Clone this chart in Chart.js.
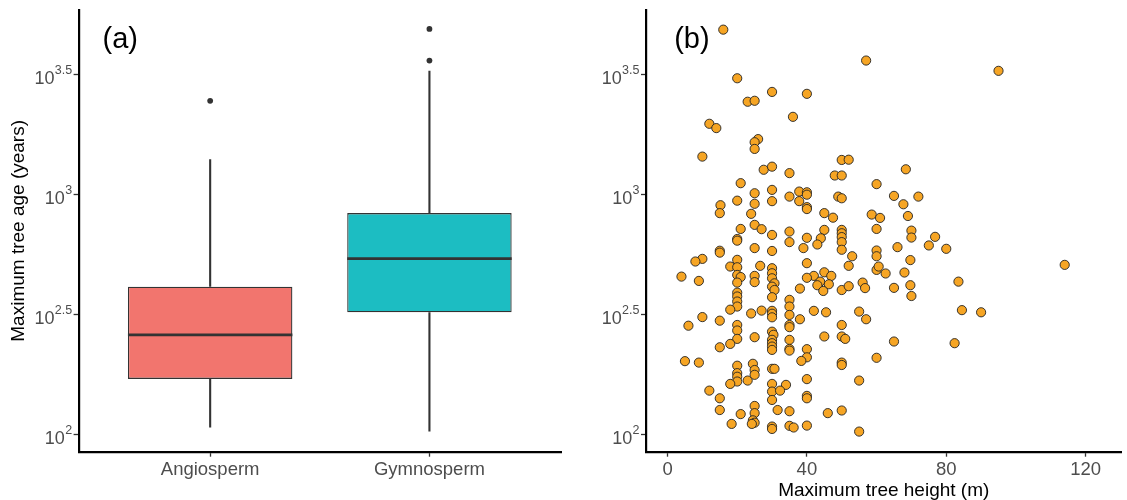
<!DOCTYPE html>
<html>
<head>
<meta charset="utf-8">
<script src="https://cdn.jsdelivr.net/npm/chart.js@4.4.0/dist/chart.umd.min.js"></script>
<style>
    html, body { margin: 0; padding: 0; background: #ffffff; }
    #wrap { position: relative; width: 1127px; height: 500px; overflow: hidden; }
    #box_chart_canvas { position: absolute; left: 0; top: 0; }
    #height_chart_canvas { position: absolute; left: 564px; top: 0; }
</style>
</head>
<body>
<div id="wrap">
    <canvas id="box_chart_canvas" width="565" height="500"></canvas>
    <canvas id="height_chart_canvas" width="563" height="500"></canvas>
</div>
<script>
'use strict';

// y values are log10(maximum tree age in years), axis shows 10^x
var yTicks = [2, 2.5, 3, 3.5];
var yTickExp = ['2', '2.5', '3', '3.5'];
var yMin = 1.927;
var yMax = 3.771;

// panel (a): boxplot per group
var categories = ['Angiosperm', 'Gymnosperm'];
var catPos = [1, 2];
var q1 = [2.231, 2.509];
var median = [2.415, 2.733];
var q3 = [2.616, 2.923];
var whiskerLow = [2.028, 2.011];
var whiskerHigh = [3.148, 3.517];
var outlierCat = [1, 2, 2];
var outlierAge = [3.392, 3.692, 3.560];
var boxColors = ['#F2756E', '#1CBDC2'];

// panel (b): maximum tree height (m) vs log10 maximum age
var xTicks = [0, 40, 80, 120];
var treeHeight = [
    16, 20, 30, 23, 25, 12, 14, 26, 25, 25, 10,
    57, 40, 36,
    95, 68.4, 72, 67.7, 69, 70, 70, 76.8, 75, 80, 114, 69.7, 68, 83.5, 69.7, 70, 84.5, 90, 82.4,
    50, 52, 35, 48, 50, 60, 35, 37.8, 40, 40, 49, 50, 65, 37.8, 40, 40, 45, 47.5, 58.6, 61,
    35, 35, 40, 45, 44, 43, 39, 50, 50, 50, 50, 50, 60, 66, 53, 52, 60, 60, 40, 45, 42, 40,
    43.8, 47, 46.3, 43, 44.7, 38, 50, 52, 56, 56.7, 60, 60.6, 62.6, 65, 35, 35,
    27.6, 30, 21, 20, 25, 30, 25, 30, 15.2, 15, 24, 25, 27, 21, 30, 20, 20, 15, 15, 25, 30,
    10, 8, 4, 9, 20, 18, 20, 20, 21, 20, 26.6, 25, 25, 30, 30, 30, 30.7, 30, 30.7, 30,
    20, 20, 20, 20, 18, 24, 27, 30,
    30, 30, 6, 10, 15, 20, 20, 20, 18, 15, 25, 30, 30.4, 30, 30, 30, 30, 5, 9, 20, 20, 20, 20,
    18, 23, 24.5, 25, 25, 30, 30.7, 30, 30, 30, 31.6, 12, 15, 15, 21, 25, 25, 24.5, 25, 24.2,
    18.4, 30, 30,
    42, 45.5, 55, 35, 38, 57, 35, 35, 50, 45, 50, 51, 65, 35, 35, 35, 40, 40, 38.4, 50, 50, 60,
    40, 34, 32.3, 55, 40, 40, 35, 46, 50, 35, 36.2, 40, 55
];
var treeAgeLog = [
    3.689, 3.486, 3.429, 3.388, 3.392, 3.296, 3.278, 3.232, 3.219, 3.191, 3.159,
    3.560, 3.421, 3.325,
    3.517, 3.106, 2.992, 2.960, 2.911, 2.850, 2.821, 2.824, 2.788, 2.774, 2.707, 2.727, 2.675, 2.637, 2.622, 2.577, 2.518, 2.509, 2.380,
    3.145, 3.146, 3.090, 3.080, 3.080, 3.044, 2.992, 3.013, 3.010, 3.000, 2.992, 2.985, 2.995, 2.973, 2.948, 2.940, 2.923, 2.904, 2.917, 2.903,
    2.846, 2.802, 2.820, 2.853, 2.818, 2.792, 2.777, 2.853, 2.839, 2.823, 2.802, 2.770, 2.857, 2.781, 2.743, 2.703, 2.767, 2.743, 2.714, 2.676, 2.661, 2.653,
    2.637, 2.661, 2.626, 2.622, 2.598, 2.608, 2.602, 2.618, 2.633, 2.610, 2.686, 2.700, 2.671, 2.611, 2.561, 2.533,
    3.104, 3.117, 3.048, 2.975, 3.006, 3.020, 2.962, 2.973, 2.956, 2.923, 2.920, 2.874, 2.856, 2.857, 2.832, 2.815, 2.808, 2.766, 2.758, 2.777, 2.765,
    2.732, 2.721, 2.658, 2.640, 2.728, 2.700, 2.697, 2.665, 2.656, 2.633, 2.703, 2.661, 2.635, 2.693, 2.672, 2.651, 2.630, 2.616, 2.602, 2.572,
    2.591, 2.575, 2.554, 2.533, 2.520, 2.504, 2.516, 2.515,
    2.503, 2.488, 2.453, 2.489, 2.474, 2.456, 2.433, 2.398, 2.377, 2.363, 2.405, 2.428, 2.415, 2.394, 2.380, 2.366, 2.352, 2.305, 2.299, 2.286, 2.255, 2.240, 2.220,
    2.210, 2.224, 2.294, 2.268, 2.248, 2.273, 2.273, 2.210, 2.178, 2.143, 2.101, 2.182, 2.150, 2.101, 2.084, 2.118, 2.088, 2.058, 2.048, 2.043,
    2.043, 2.032, 2.022,
    2.515, 2.509, 2.512, 2.498, 2.480, 2.480, 2.456, 2.447, 2.456, 2.408, 2.408, 2.398, 2.387, 2.394, 2.356, 2.349, 2.355, 2.321, 2.306, 2.299, 2.289, 2.319,
    2.230, 2.206, 2.182, 2.224, 2.160, 2.150, 2.096, 2.088, 2.099, 2.035, 2.028, 2.036, 2.011
];

var FONT = '"Liberation Sans", Arial, Helvetica, sans-serif';
var TICK_GREY = '#4D4D4D';
var BOX_WIDTH = 0.75;
var TAG_Y = 3.647;

// draws the panel tag and the 10^x tick labels (superscript exponent)
function panelDecor(tag, tagX) {
    return {
        id: 'panel_decor',
        afterDraw: function (chart) {
            var ctx = chart.ctx;
            var xs = chart.scales.x;
            var ys = chart.scales.y;
            var right = chart.chartArea.left - 6.5;
            ctx.save();
            ctx.fillStyle = TICK_GREY;
            ctx.textAlign = 'right';
            ctx.textBaseline = 'alphabetic';
            for (var i = 0; i < yTicks.length; i++) {
                var py = ys.getPixelForValue(yTicks[i]);
                ctx.font = '12.5px ' + FONT;
                var expW = ctx.measureText(yTickExp[i]).width;
                ctx.fillText(yTickExp[i], right, py - 0.7);
                ctx.font = '18px ' + FONT;
                ctx.fillText('10', right - expW - 0.3, py + 9.5);
            }
            ctx.fillStyle = '#000000';
            ctx.font = '29px ' + FONT;
            ctx.textAlign = 'center';
            ctx.textBaseline = 'middle';
            ctx.fillText(tag, xs.getPixelForValue(tagX), ys.getPixelForValue(TAG_Y));
            ctx.restore();
        }
    };
}

function yAxis(width, withTitle) {
    return {
        type: 'linear',
        min: yMin,
        max: yMax,
        afterBuildTicks: function (scale) {
            scale.ticks = yTicks.map(function (v) { return {value: v}; });
        },
        afterFit: function (scale) { scale.width = width; },
        ticks: {display: false},
        grid: {display: true, drawOnChartArea: false, drawTicks: true, tickLength: 5, tickColor: '#333333', tickWidth: 1.3},
        border: {display: true, color: '#000000', width: 2.2},
        title: {
            display: withTitle,
            text: 'Maximum tree age (years)',
            color: '#000000',
            font: {family: FONT, size: 19},
            padding: {top: 7, bottom: 0}
        }
    };
}

function xAxis(min, max, tickValues, labels, title) {
    return {
        type: 'linear',
        min: min,
        max: max,
        offset: false,
        afterBuildTicks: function (scale) {
            scale.ticks = tickValues.map(function (v) { return {value: v}; });
        },
        afterFit: function (scale) { scale.height = 48.3; },
        ticks: {
            color: TICK_GREY,
            padding: 2,
            maxRotation: 0,
            autoSkip: false,
            font: {family: FONT, size: 18.5},
            callback: function (value, index) { return labels[index]; }
        },
        grid: {display: true, offset: false, drawOnChartArea: false, drawTicks: true, tickLength: 5, tickColor: '#333333', tickWidth: 1.3},
        border: {display: true, color: '#000000', width: 2.2},
        title: {
            display: !!title,
            text: title || '',
            color: '#000000',
            font: {family: FONT, size: 19},
            padding: {top: 0, bottom: -2}
        }
    };
}

// ---------- panel (a) ----------
var boxData = [];
var whiskerData = [];
var medianData = [];
for (var i = 0; i < categories.length; i++) {
    var c = catPos[i];
    boxData.push({x: c, y: [q1[i], q3[i]]});
    whiskerData.push({x: c, y: q3[i]}, {x: c, y: whiskerHigh[i]}, {x: c, y: null});
    whiskerData.push({x: c, y: q1[i]}, {x: c, y: whiskerLow[i]}, {x: c, y: null});
    medianData.push({x: c - BOX_WIDTH / 2, y: median[i]}, {x: c + BOX_WIDTH / 2, y: median[i]}, {x: c, y: null});
}
var outlierData = outlierCat.map(function (c, k) { return {x: c, y: outlierAge[k]}; });

var box_ctx = document.getElementById('box_chart_canvas');
var box_chart = new Chart(box_ctx, {
    type: 'scatter',
    data: {
        datasets: [{
            label: 'median',
            type: 'line',
            data: medianData,
            borderColor: '#333333',
            borderWidth: 2.8,
            pointRadius: 0,
            spanGaps: false,
            order: 0
        }, {
            label: 'outliers',
            data: outlierData,
            backgroundColor: '#333333',
            borderColor: '#333333',
            borderWidth: 0,
            pointRadius: 2.9,
            order: 1
        }, {
            label: 'whiskers',
            type: 'line',
            data: whiskerData,
            borderColor: '#333333',
            borderWidth: 2.1,
            pointRadius: 0,
            spanGaps: false,
            order: 3
        }, {
            label: 'box',
            type: 'bar',
            data: boxData,
            backgroundColor: boxColors,
            borderColor: '#333333',
            borderWidth: 1.3,
            borderSkipped: false,
            barPercentage: BOX_WIDTH,
            categoryPercentage: 1,
            order: 2
        }]
    },
    options: {
        responsive: false,
        animation: false,
        layout: {padding: {top: 10, right: 1, bottom: 0, left: 0}},
        plugins: {legend: {display: false}, tooltip: {enabled: false}},
        scales: {
            x: xAxis(0.4, 2.6, catPos, categories, null),
            y: yAxis(78.6, true)
        }
    },
    plugins: [panelDecor('(a)', 0.59)]
});

// ---------- panel (b) ----------
var pointData = treeHeight.map(function (h, k) { return {x: h, y: treeAgeLog[k]}; });

var height_ctx = document.getElementById('height_chart_canvas');
var height_chart = new Chart(height_ctx, {
    type: 'scatter',
    data: {
        datasets: [{
            label: 'species',
            data: pointData,
            backgroundColor: '#F6A524',
            borderColor: '#222222',
            borderWidth: 0.9,
            pointRadius: 4.6
        }]
    },
    options: {
        responsive: false,
        animation: false,
        layout: {padding: {top: 10, right: 0, bottom: 0, left: 0}},
        plugins: {legend: {display: false}, tooltip: {enabled: false}},
        scales: {
            x: xAxis(-6.18, 130.3, xTicks, xTicks.map(String), 'Maximum tree height (m)'),
            y: yAxis(82, false)
        }
    },
    plugins: [panelDecor('(b)', 7)]
});
</script>
</body>
</html>
